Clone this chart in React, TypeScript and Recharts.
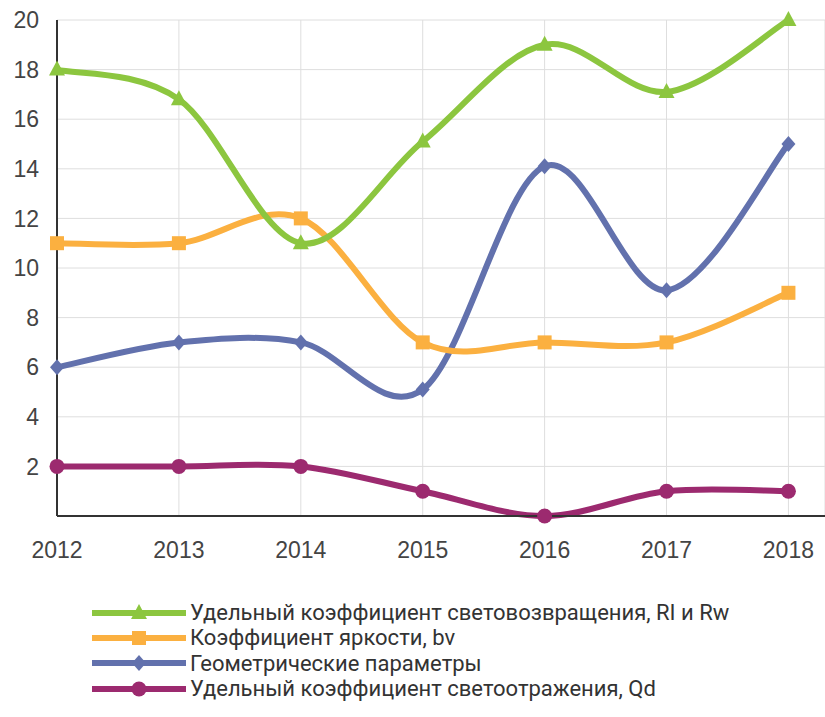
import { LineChart, Line, XAxis, YAxis, CartesianGrid } from 'recharts';

const years = [2012, 2013, 2014, 2015, 2016, 2017, 2018];
const retroReflection = [18, 16.8, 11, 15.1, 19, 17.1, 20];
const luminance = [11, 11, 12, 7, 7, 7, 9];
const geometry = [6, 7, 7, 5.1, 14.1, 9.1, 15];
const reflection = [2, 2, 2, 1, 0, 1, 1];
const yTicks = [2, 4, 6, 8, 10, 12, 14, 16, 18, 20];

const GREEN = '#8cc63f';
const ORANGE = '#fbb040';
const BLUE = '#6271ad';
const PURPLE = '#9c2a6f';

const data = years.map((year, i) => ({
  year,
  rl: retroReflection[i],
  bv: luminance[i],
  geo: geometry[i],
  qd: reflection[i],
}));

// Excel-like smoothing (Catmull-Rom through every point)
function smoothCurve(context: any) {
  let pts: [number, number][] = [];
  return {
    areaStart() {},
    areaEnd() {},
    lineStart() {
      pts = [];
    },
    point(x: number, y: number) {
      pts.push([+x, +y]);
    },
    lineEnd() {
      if (!pts.length) return;
      context.moveTo(pts[0][0], pts[0][1]);
      for (let i = 0; i < pts.length - 1; i++) {
        const p0 = pts[i - 1] || pts[i];
        const p1 = pts[i];
        const p2 = pts[i + 1];
        const p3 = pts[i + 2] || p2;
        context.bezierCurveTo(
          p1[0] + (p2[0] - p0[0]) / 6,
          p1[1] + (p2[1] - p0[1]) / 6,
          p2[0] - (p3[0] - p1[0]) / 6,
          p2[1] - (p3[1] - p1[1]) / 6,
          p2[0],
          p2[1]
        );
      }
    },
  };
}

type Shape = 'triangle' | 'square' | 'diamond' | 'circle';

function marker(shape: Shape, cx: number, cy: number, color: string, key?: any) {
  if (shape === 'triangle') {
    return <path key={key} d={`M${cx},${cy - 9} L${cx + 8},${cy + 6} L${cx - 8},${cy + 6} Z`} fill={color} />;
  }
  if (shape === 'square') {
    return <rect key={key} x={cx - 7} y={cy - 7} width={14} height={14} fill={color} />;
  }
  if (shape === 'diamond') {
    return <path key={key} d={`M${cx},${cy - 8} L${cx + 7},${cy} L${cx},${cy + 8} L${cx - 7},${cy} Z`} fill={color} />;
  }
  return <circle key={key} cx={cx} cy={cy} r={7.5} fill={color} />;
}

const makeDot = (shape: Shape, color: string) => (props: any) =>
  marker(shape, props.cx, props.cy, color, props.index);

const legendItems: { label: string; color: string; shape: Shape }[] = [
  { label: 'Удельный коэффициент световозвращения, RI и Rw', color: GREEN, shape: 'triangle' },
  { label: 'Коэффициент яркости, bv', color: ORANGE, shape: 'square' },
  { label: 'Геометрические параметры', color: BLUE, shape: 'diamond' },
  { label: 'Удельный коэффициент светоотражения, Qd', color: PURPLE, shape: 'circle' },
];

const tickStyle = { fill: '#444', fontSize: 23, fontFamily: 'Liberation Sans, Arial, sans-serif' };

export default function App() {
  return (
    <div style={{ position: 'absolute', left: 0, top: 0, width: 825, height: 717, background: '#fff' }}>
      <LineChart width={825} height={580} data={data} margin={{ top: 20, right: 0, bottom: 0, left: 0 }}>
        <CartesianGrid stroke="#dedede" strokeWidth={1} />
        <XAxis
          dataKey="year"
          type="number"
          domain={[2012, 2018.3]}
          ticks={years}
          tickLine={false}
          axisLine={{ stroke: '#333', strokeWidth: 2 }}
          tick={tickStyle}
          tickMargin={20}
          height={64}
        />
        <YAxis
          domain={[0, 20]}
          ticks={yTicks}
          tickLine={false}
          axisLine={{ stroke: '#333', strokeWidth: 2 }}
          tick={tickStyle}
          tickMargin={12}
          width={57}
        />
        <Line dataKey="qd" type={smoothCurve as any} stroke={PURPLE} strokeWidth={6} dot={makeDot('circle', PURPLE)} isAnimationActive={false} />
        <Line dataKey="geo" type={smoothCurve as any} stroke={BLUE} strokeWidth={6} dot={makeDot('diamond', BLUE)} isAnimationActive={false} />
        <Line dataKey="bv" type={smoothCurve as any} stroke={ORANGE} strokeWidth={6} dot={makeDot('square', ORANGE)} isAnimationActive={false} />
        <Line dataKey="rl" type={smoothCurve as any} stroke={GREEN} strokeWidth={6} dot={makeDot('triangle', GREEN)} isAnimationActive={false} />
      </LineChart>
      <div style={{ position: 'absolute', left: 92, top: 600, fontFamily: 'Roboto, sans-serif', fontSize: 22, color: '#333' }}>
        {legendItems.map((item) => (
          <div key={item.label} style={{ display: 'flex', alignItems: 'center', height: 25.3 }}>
            <svg width={96} height={20} style={{ marginRight: 2 }}>
              <rect x={0} y={7} width={94} height={6} fill={item.color} />
              {marker(item.shape, 47, 10, item.color)}
            </svg>
            <span>{item.label}</span>
          </div>
        ))}
      </div>
    </div>
  );
}
